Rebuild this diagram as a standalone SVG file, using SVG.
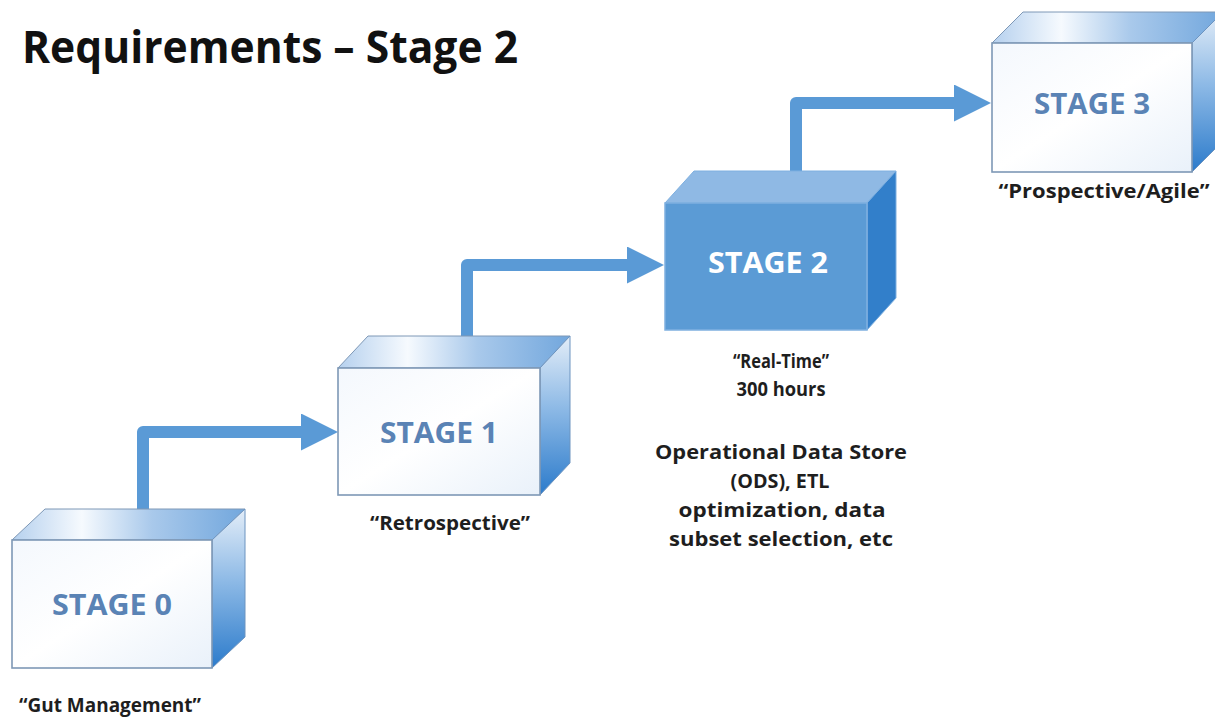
<svg xmlns="http://www.w3.org/2000/svg" width="1215" height="721" viewBox="0 0 1215 721">
<defs>
<linearGradient id="gFront" x1="0" y1="0" x2="1" y2="1">
<stop offset="0" stop-color="#F4F8FD"/>
<stop offset="0.5" stop-color="#FFFFFF"/>
<stop offset="1" stop-color="#E9F1FA"/>
</linearGradient>
<linearGradient id="gTop" x1="0" y1="0" x2="1" y2="0">
<stop offset="0" stop-color="#B5D0EE"/>
<stop offset="0.3" stop-color="#F6FAFE"/>
<stop offset="0.6" stop-color="#A9C9EB"/>
<stop offset="1" stop-color="#72A7DD"/>
</linearGradient>
<linearGradient id="gSide" x1="0" y1="0" x2="0" y2="1">
<stop offset="0" stop-color="#E3EDF8"/>
<stop offset="0.45" stop-color="#8EBAE6"/>
<stop offset="1" stop-color="#2C7BCB"/>
</linearGradient>
<marker id="head" viewBox="0 0 37 37" refX="1" refY="18.5" markerWidth="37" markerHeight="37" markerUnits="userSpaceOnUse" orient="auto">
<path d="M0,0 L37,18.5 L0,37 Z" fill="#5A9AD6"/>
</marker>
</defs>
<style>
.front{fill:url(#gFront);stroke:#7E98B6;stroke-width:1.6}
.top{fill:url(#gTop);stroke:#7E98B6;stroke-width:1}
.side{fill:url(#gSide);stroke:#6D94C0;stroke-width:1}
.front2{fill:#5B9BD5;stroke:#7FB0E0;stroke-width:1.5}
.top2{fill:#8FB9E4;stroke:#7FB0E0;stroke-width:1}
.side2{fill:#327FCA;stroke:#7FB0E0;stroke-width:1}
.stage{font-family:"Open Sans","Noto Sans",sans-serif;font-weight:700;font-size:29px;fill:#5A83B5;text-anchor:middle}
.stage2{font-family:"Open Sans","Noto Sans",sans-serif;font-weight:700;font-size:29px;fill:#FFFFFF;text-anchor:middle}
.lbl{font-family:"Open Sans","Noto Sans",sans-serif;font-weight:700;font-size:19.5px;fill:#1E1E1E;text-anchor:middle}
.title{font-family:"Open Sans","Noto Sans",sans-serif;font-weight:700;font-size:44px;fill:#111111}
.conn{fill:none;stroke:#5A9AD6;stroke-width:12;stroke-linecap:round;stroke-linejoin:round;marker-end:url(#head)}
</style>
<rect x="0" y="0" width="1215" height="721" fill="#FFFFFF"/>
<text class="title" x="22" y="63" textLength="496" lengthAdjust="spacingAndGlyphs">Requirements – Stage 2</text>

<g id="connectors">
<path class="conn" d="M143,512 V432 H302"/>
<path class="conn" d="M467,338 V265 H628"/>
<path class="conn" d="M796,173 V103 H955"/>
</g>

<g id="stage0">
<polygon class="top" points="12,540 45,509 245,509 212,540"/>
<polygon class="side" points="212,540 245,509 245,637 212,668"/>
<rect class="front" x="12" y="540" width="200" height="128"/>
<text class="stage" x="112" y="615" textLength="120" lengthAdjust="spacingAndGlyphs">STAGE 0</text>
<text class="lbl" x="110" y="712" textLength="182" lengthAdjust="spacingAndGlyphs">“Gut Management”</text>
</g>

<g id="stage1">
<polygon class="top" points="338,368 368,336 570,336 540,368"/>
<polygon class="side" points="540,368 570,336 570,463 540,495"/>
<rect class="front" x="338" y="368" width="202" height="127"/>
<text class="stage" x="439" y="443" textLength="118" lengthAdjust="spacingAndGlyphs">STAGE 1</text>
<text class="lbl" x="450" y="530" textLength="160" lengthAdjust="spacingAndGlyphs">“Retrospective”</text>
</g>

<g id="stage2">
<polygon class="top2" points="665,203 694,171 896,171 867,203"/>
<polygon class="side2" points="867,203 896,171 896,298 867,330"/>
<rect class="front2" x="665" y="203" width="202" height="127"/>
<text class="stage2" x="768" y="273" textLength="120" lengthAdjust="spacingAndGlyphs">STAGE 2</text>
<text class="lbl" x="781" y="368" textLength="96" lengthAdjust="spacingAndGlyphs">“Real-Time”</text>
<text class="lbl" x="781" y="396" textLength="89" lengthAdjust="spacingAndGlyphs">300 hours</text>
<text class="lbl" x="781" y="459" textLength="252" lengthAdjust="spacingAndGlyphs">Operational Data Store</text>
<text class="lbl" x="780" y="488" textLength="99" lengthAdjust="spacingAndGlyphs">(ODS), ETL</text>
<text class="lbl" x="782" y="517" textLength="207" lengthAdjust="spacingAndGlyphs">optimization, data</text>
<text class="lbl" x="781" y="546" textLength="224" lengthAdjust="spacingAndGlyphs">subset selection, etc</text>
</g>

<g id="stage3">
<polygon class="top" points="992,43 1023,12 1223,12 1192,43"/>
<polygon class="side" points="1192,43 1223,12 1223,141 1192,172"/>
<rect class="front" x="992" y="43" width="200" height="129"/>
<text class="stage" x="1092" y="114" textLength="116" lengthAdjust="spacingAndGlyphs">STAGE 3</text>
<text class="lbl" x="1104" y="198" textLength="211" lengthAdjust="spacingAndGlyphs">“Prospective/Agile”</text>
</g>
</svg>
